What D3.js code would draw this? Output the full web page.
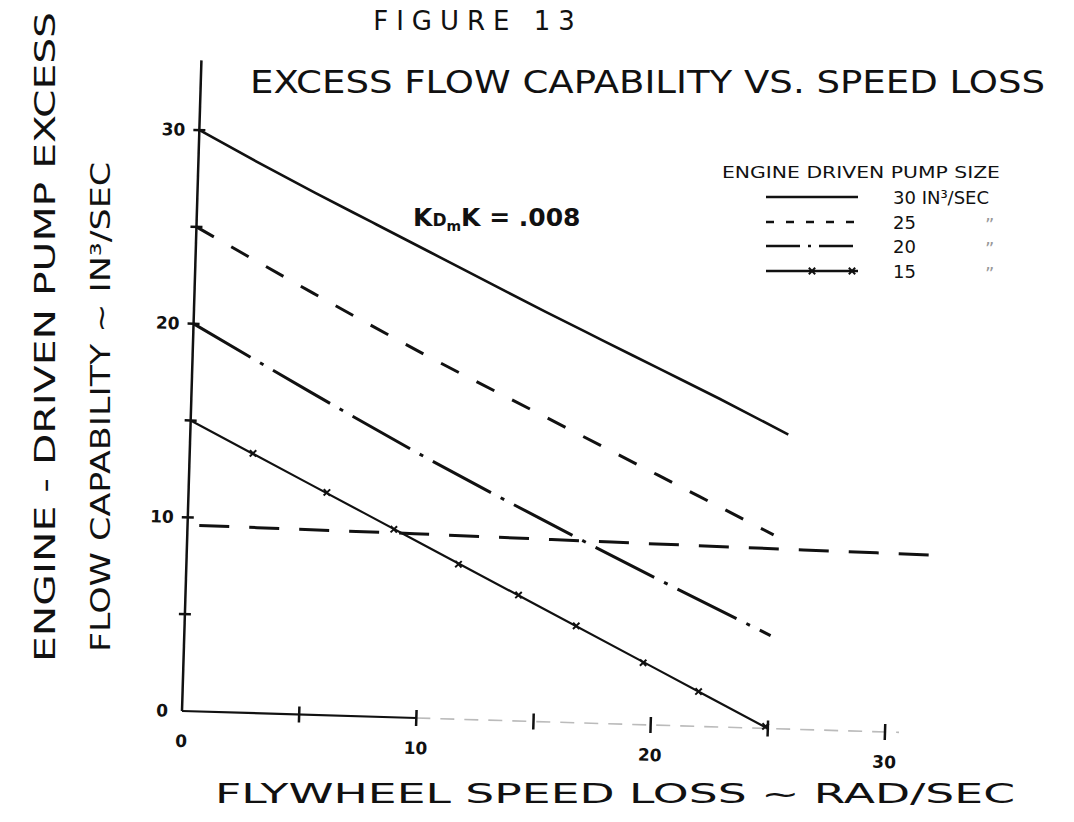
<!DOCTYPE html>
<html><head><meta charset="utf-8">
<script src="https://cdn.jsdelivr.net/npm/d3@7"></script>
<style>body{margin:0;background:#fff}svg{display:block}text{font-family:"DejaVu Sans",sans-serif;fill:#111}</style>
</head><body><svg id="c" width="1074" height="822"></svg>
<script>
// ---- data ----
const speedLoss30 = [0, 2.5, 5, 7.5, 10, 12.5, 15, 17.5, 20, 22.5, 25.5];
const flow30      = [30, 28.45, 26.95, 25.5, 24.05, 22.6, 21.15, 19.75, 18.35, 16.95, 15.2];
const speedLoss25 = [0, 5, 10, 15, 20, 25];
const flow25      = [25, 21.8, 18.7, 15.8, 12.9, 10.0];
const speedLoss20 = [0, 5, 10, 15, 20, 25];
const flow20      = [20, 16.7, 13.5, 10.5, 7.6, 4.8];
const speedLoss15 = [0, 5, 10, 15, 20, 25];
const flow15      = [15, 12.0, 9.0, 6.0, 3.0, 0.0];
const marker15X   = [2.7, 5.9, 8.8, 11.6, 14.2, 16.7, 19.6, 22.0, 24.9];
const marker15Y   = [13.4, 11.5, 9.7, 8.0, 6.5, 5.0, 3.2, 1.8, 0.1];
const speedLossRef = [0.5, 10, 20, 32];
const flowRef      = [9.6, 9.5, 9.35, 9.2];
const xTickValues  = [0, 5, 10, 15, 20, 25, 30];
const xTickLabels  = [0, 10, 20, 30];
const yTickValues  = [5, 10, 15, 20, 25, 30];
const yTickLabels  = [0, 10, 20, 30];
const legendLabels = ["30 IN³/SEC", "25", "20", "15"];
const legendDitto  = ["", "\u201D", "\u201D", "\u201D"];

const svg = d3.select("#c");
const x = d3.scaleLinear().domain([0, 30]).range([182, 885.3]);
const y = d3.scaleLinear().domain([0, 30]).range([711, 129.8]);

// titles
svg.append("text").attr("x", 478).attr("y", 30).attr("text-anchor", "middle")
  .attr("font-size", 26).attr("letter-spacing", 8).text("FIGURE 13");
svg.append("text").attr("x", 250).attr("y", 93).attr("font-size", 32)
  .attr("textLength", 795).attr("lengthAdjust", "spacingAndGlyphs")
  .text("EXCESS FLOW CAPABILITY VS. SPEED LOSS");

// y title (two rotated lines)
svg.append("text").attr("transform", "translate(55,662) rotate(-90)")
  .attr("font-size", 28).attr("textLength", 650).attr("lengthAdjust", "spacingAndGlyphs")
  .text("ENGINE - DRIVEN PUMP EXCESS");
svg.append("text").attr("transform", "translate(110,652) rotate(-90)")
  .attr("font-size", 26).attr("textLength", 490).attr("lengthAdjust", "spacingAndGlyphs")
  .text("FLOW CAPABILITY ~ IN³/SEC");

// x title
svg.append("text").attr("x", 215).attr("y", 803).attr("font-size", 26)
  .attr("textLength", 800).attr("lengthAdjust", "spacingAndGlyphs")
  .text("FLYWHEEL SPEED LOSS ~ RAD/SEC");

// annotation KDmK = .008
const k = svg.append("text").attr("x", 413).attr("y", 226).attr("font-size", 25).attr("font-weight", "bold");
k.append("tspan").text("K");
k.append("tspan").attr("font-size", 17).text("D");
k.append("tspan").attr("font-size", 14).attr("dy", 5).text("m");
k.append("tspan").attr("dy", -5).text("K = .008");

// plot group (slightly rotated like the original sheet)
const g = svg.append("g").attr("transform", "rotate(1.71,182,711)");

// axes
g.append("line").attr("x1", x(0)).attr("x2", x(0)).attr("y1", y(0)).attr("y2", y(33.6))
  .attr("stroke", "#111").attr("stroke-width", 2.5);
g.append("line").attr("x1", x(0)).attr("x2", x(10)).attr("y1", y(0)).attr("y2", y(0))
  .attr("stroke", "#111").attr("stroke-width", 2.2);
g.append("line").attr("x1", x(10)).attr("x2", x(30.6)).attr("y1", y(0)).attr("y2", y(0))
  .attr("stroke", "#bbb").attr("stroke-width", 1.6).attr("stroke-dasharray", "14,10");

g.selectAll(".yt").data(yTickValues).join("line")
  .attr("x1", x(0) - 6).attr("x2", x(0) + 6).attr("y1", d => y(d)).attr("y2", d => y(d))
  .attr("stroke", "#111").attr("stroke-width", 2.5);
g.selectAll(".xt").data(xTickValues.slice(1)).join("line")
  .attr("x1", d => x(d)).attr("x2", d => x(d)).attr("y1", y(0) - 8).attr("y2", y(0) + 8)
  .attr("stroke", "#111").attr("stroke-width", 2.5);

g.selectAll(".yl").data(yTickLabels).join("text")
  .attr("x", x(0) - 14).attr("y", d => y(d) + 6).attr("text-anchor", "end")
  .attr("font-size", 17).attr("font-weight", "bold").text(d => d);
g.selectAll(".xl").data(xTickLabels).join("text")
  .attr("x", d => x(d)).attr("y", y(0) + 36).attr("text-anchor", "middle")
  .attr("font-size", 17).attr("font-weight", "bold").text(d => d);

const line = d3.line().x(d => x(d[0])).y(d => y(d[1])).curve(d3.curveMonotoneX);
const series = [
  {xs: speedLoss30, ys: flow30, dash: null, w: 2.6},
  {xs: speedLoss25, ys: flow25, dash: "20,20", w: 3},
  {xs: speedLoss20, ys: flow20, dash: "66,11,4,11", w: 3},
  {xs: speedLoss15, ys: flow15, dash: null, w: 2.2},
  {xs: speedLossRef, ys: flowRef, dash: "30,20", w: 3}
];
g.selectAll(".s").data(series).join("path")
  .attr("d", s => line(s.xs.map((v, i) => [v, s.ys[i]])))
  .attr("fill", "none").attr("stroke", "#111")
  .attr("stroke-width", s => s.w).attr("stroke-dasharray", s => s.dash);

g.selectAll(".m").data(marker15X.map((v, i) => [v, marker15Y[i]])).join("path")
  .attr("transform", d => `translate(${x(d[0])},${y(d[1])})`)
  .attr("d", d3.symbol(d3.symbolTimes, 28)).attr("fill", "none")
  .attr("stroke", "#111").attr("stroke-width", 2);

// legend
svg.append("text").attr("x", 722).attr("y", 178).attr("font-size", 15)
  .attr("textLength", 278).attr("lengthAdjust", "spacingAndGlyphs")
  .text("ENGINE DRIVEN PUMP SIZE");
const legY = [197, 222, 246, 271];
const legDash = [null, "8,12", "34,8,3,8", null];
legendLabels.forEach((lab, i) => {
  svg.append("line").attr("x1", 766).attr("x2", 858).attr("y1", legY[i]).attr("y2", legY[i])
    .attr("stroke", "#111").attr("stroke-width", 2.4).attr("stroke-dasharray", legDash[i]);
  svg.append("text").attr("x", 893).attr("y", legY[i] + 7).attr("font-size", 18).text(lab);
  svg.append("text").attr("x", 985).attr("y", legY[i] + 9).attr("font-size", 18)
    .style("fill", "#999").text(legendDitto[i]);
});
svg.selectAll(".lm").data([812, 852]).join("path")
  .attr("transform", d => `translate(${d},${legY[3]})`)
  .attr("d", d3.symbol(d3.symbolTimes, 28)).attr("fill", "none")
  .attr("stroke", "#111").attr("stroke-width", 2);
</script></body></html>
